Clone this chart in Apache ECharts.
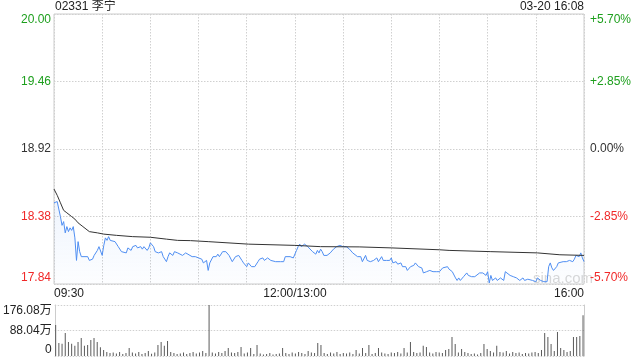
<!DOCTYPE html>
<html><head><meta charset="utf-8">
<script src="https://cdn.jsdelivr.net/npm/echarts@6/dist/echarts.min.js"></script>
<style>html,body{margin:0;padding:0;background:#fff}#c{width:640px;height:360px}</style>
</head><body><div id="c"></div>
<script>
const stockTitle = '02331 李宁';
const stampText = '03-20 16:08';
const prevClose = 18.92;
const tickMinutes = [0, 150, 330];
const tickLabels = ['09:30', '12:00/13:00', '16:00'];
// [minute since 09:30 on trading clock, price]
const pricePoints = [[0,18.49],[1,18.48],[2,18.50],[4,18.38],[5,18.31],[6,18.34],[7,18.25],[8,18.30],[9,18.26],[10,18.29],[11,18.27],[12,18.30],[13,18.21],[14,18.03],[15,18.18],[16,18.10],[17,18.06],[18,18.07],[21,18.06],[22,18.03],[24,18.04],[25,18.07],[27,18.11],[28,18.14],[30,18.07],[31,18.15],[32,18.21],[33,18.19],[34,18.22],[35,18.19],[36,18.20],[38,18.18],[39,18.18],[40,18.14],[42,18.10],[43,18.11],[45,18.09],[46,18.13],[48,18.11],[49,18.14],[51,18.15],[52,18.13],[54,18.14],[55,18.12],[56,18.14],[58,18.11],[59,18.13],[60,18.17],[61,18.17],[62,18.14],[63,18.10],[64,18.11],[65,18.09],[67,18.10],[68,18.06],[70,18.02],[71,18.06],[72,18.09],[74,18.07],[75,18.10],[77,18.09],[80,18.07],[82,18.09],[83,18.10],[86,18.06],[88,18.06],[90,18.05],[92,18.04],[93,18.01],[95,18.03],[96,17.95],[97,18.01],[98,18.02],[99,18.06],[100,18.07],[101,18.06],[102,18.08],[103,18.06],[105,18.10],[106,18.09],[107,18.10],[108,18.09],[109,18.07],[110,18.06],[111,18.02],[113,18.06],[114,18.05],[115,18.07],[117,18.03],[118,18.01],[120,17.98],[121,18.01],[123,17.98],[124,17.99],[125,17.98],[127,18.02],[128,18.04],[130,18.05],[131,18.03],[133,18.05],[135,18.03],[136,18.04],[138,18.02],[139,18.03],[141,18.02],[143,18.02],[144,18.06],[145,18.06],[147,18.06],[148,18.07],[149,18.05],[151,18.11],[152,18.14],[153,18.16],[154,18.14],[156,18.16],[158,18.14],[159,18.13],[161,18.10],[163,18.08],[164,18.11],[165,18.09],[166,18.12],[167,18.10],[168,18.07],[170,18.07],[172,18.09],[173,18.10],[174,18.12],[176,18.14],[177,18.14],[178,18.15],[180,18.14],[181,18.15],[182,18.14],[184,18.12],[186,18.09],[189,18.06],[191,18.06],[192,18.02],[194,18.07],[195,18.03],[197,18.02],[199,18.03],[201,18.05],[202,18.02],[204,18.06],[205,18.03],[207,18.03],[209,18.03],[210,18.05],[211,18.01],[213,18.02],[214,18.00],[216,18.01],[217,17.98],[219,17.98],[220,17.95],[222,17.98],[224,17.99],[225,18.01],[226,18.01],[227,17.98],[229,17.97],[230,17.93],[232,17.94],[233,17.94],[234,17.95],[236,17.94],[237,17.95],[238,17.94],[240,17.94],[242,17.97],[243,17.96],[245,17.98],[246,17.96],[248,17.94],[250,17.89],[251,17.87],[252,17.89],[253,17.87],[255,17.90],[256,17.91],[257,17.93],[258,17.91],[260,17.90],[262,17.90],[263,17.91],[265,17.93],[267,17.93],[269,17.91],[270,17.94],[271,17.85],[272,17.91],[273,17.87],[275,17.89],[276,17.87],[278,17.89],[280,17.87],[281,17.94],[282,17.93],[284,17.91],[286,17.90],[287,17.89],[288,17.89],[290,17.87],[292,17.89],[293,17.87],[295,17.88],[296,17.89],[298,17.87],[300,17.86],[301,17.89],[303,17.87],[305,17.86],[306,17.87],[307,17.86],[308,17.98],[309,18.01],[310,17.97],[311,17.95],[312,17.94],[313,17.98],[314,18.01],[315,18.01],[317,18.02],[318,18.03],[319,18.02],[321,18.03],[323,18.02],[324,18.04],[325,18.07],[326,18.06],[327,18.06],[328,18.09],[329,18.05],[330,18.02]];
const avgPoints = [[0,18.60],[2,18.55],[4,18.49],[6,18.43],[8,18.41],[11,18.38],[13,18.36],[15,18.33],[18,18.30],[22,18.26],[27,18.25],[31,18.24],[39,18.23],[49,18.22],[60,18.215],[70,18.20],[77,18.19],[85,18.188],[96,18.18],[97,18.17],[121,18.16],[150,18.15],[166,18.14],[190,18.138],[210,18.13],[240,18.115],[246,18.11],[272,18.10],[301,18.09],[315,18.075],[330,18.07]];
// volume per 2-minute bin, in 万 shares
const volumes = [107,45,42,79,48,42,35,48,62,35,38,55,62,48,30,21,14,10,12,9,14,7,10,28,12,9,14,7,10,17,8,12,38,48,35,52,14,10,7,9,12,7,10,14,9,12,17,10,176,12,9,14,10,17,28,12,10,14,31,9,12,28,7,38,9,5,7,10,5,7,9,28,10,7,12,9,14,10,7,17,12,10,45,38,10,7,12,9,14,7,10,9,12,7,21,9,28,10,38,7,10,28,12,9,7,12,10,14,9,28,12,48,14,10,12,35,31,12,9,14,12,10,21,24,66,41,12,24,14,10,7,9,5,10,41,24,17,12,35,14,12,17,9,14,10,12,7,10,9,12,14,10,21,79,66,41,17,83,28,21,14,17,66,66,69,141];
const volMax = 176.08;

const GREEN = '#1d9f1d', RED = '#f02828', DARK = '#333';
const FONT = 'Arial, "Liberation Sans", "Noto Sans CJK SC", sans-serif';
const toPct = p => (p / prevClose - 1) * 100;
const priceData = pricePoints.map(d => [d[0], toPct(d[1])]);
const avgData = avgPoints.map(d => [d[0], toPct(d[1])]);
const volData = volumes.map((v, i) => [i * 2, v]);
const colorFor = v => { v = Number(v); return v > 0.001 ? GREEN : (v < -0.001 ? RED : DARK); };

const chart = echarts.init(document.getElementById('c'), null, {renderer: 'canvas'});
chart.setOption({
  animation: false,
  textStyle: {fontFamily: FONT},
  title: [
    {text: stockTitle, left: 55, top: 1, padding: 0, textStyle: {fontSize: 12, fontWeight: 'normal', color: '#222', fontFamily: FONT}},
    {text: stampText, right: 56, top: 1, padding: 0, textStyle: {fontSize: 12, fontWeight: 'normal', color: '#222', fontFamily: FONT}}
  ],
  graphic: [{type: 'text', left: 533, top: 271, style: {text: 'sina.com', fill: '#d8d8d8', font: '15px ' + FONT}}],
  grid: [
    {left: 54, right: 56, top: 14, height: 270, show: true, borderColor: '#ccc', borderWidth: 1},
    {left: 54, right: 56, top: 305, height: 51}
  ],
  xAxis: [
    {type: 'value', gridIndex: 0, min: 0, max: 330, interval: 30,
     axisLine: {show: false}, axisTick: {show: false},
     splitLine: {show: true, lineStyle: {color: '#d0d0d0', type: [1.5, 1.5]}},
     axisLabel: {show: true, margin: 4, fontSize: 12, color: '#222', fontFamily: FONT,
       alignMinLabel: 'left', alignMaxLabel: 'right',
       formatter: v => { const i = tickMinutes.indexOf(Math.round(v)); return i >= 0 ? tickLabels[i] : ''; }}},
    {type: 'value', gridIndex: 1, min: -0.6, max: 330.6, interval: 30,
     axisLine: {show: false}, axisTick: {show: false}, splitLine: {show: false}, axisLabel: {show: false}}
  ],
  yAxis: [
    {type: 'value', gridIndex: 0, min: -5.7, max: 5.7, interval: 2.85, position: 'left',
     axisLine: {show: false}, axisTick: {show: false},
     splitLine: {show: true, lineStyle: {color: '#d0d0d0', type: [1.5, 1.5]}},
     axisLabel: {margin: 3, fontSize: 12, fontFamily: FONT, color: colorFor,
       verticalAlignMinLabel: 'bottom', verticalAlignMaxLabel: 'top',
       formatter: v => (prevClose * (1 + v / 100)).toFixed(2)}},
    {type: 'value', gridIndex: 0, min: -5.7, max: 5.7, interval: 2.85, position: 'right',
     axisLine: {show: false}, axisTick: {show: false}, splitLine: {show: false},
     axisLabel: {margin: 6, fontSize: 12, fontFamily: FONT, color: colorFor,
       verticalAlignMinLabel: 'bottom', verticalAlignMaxLabel: 'top',
       formatter: v => { v = Number(v); if (Math.abs(v) < 0.001) return '0.00%'; return (v > 0 ? '+' : '') + v.toFixed(2) + '%'; }}},
    {type: 'value', gridIndex: 1, min: 0, max: volMax, interval: volMax / 2, position: 'left',
     axisLine: {show: true, lineStyle: {color: '#ccc'}}, axisTick: {show: false},
     splitLine: {show: true, lineStyle: {color: '#d0d0d0', type: [1.5, 1.5]}},
     axisLabel: {margin: 3, fontSize: 12, color: '#222', fontFamily: FONT,
       verticalAlignMinLabel: 'bottom', verticalAlignMaxLabel: 'top',
       formatter: v => { v = Number(v); return v < 0.001 ? '0' : v.toFixed(2) + '万'; }}},
    {type: 'value', gridIndex: 1, min: 0, max: volMax, position: 'right',
     axisLine: {show: true, onZero: false, lineStyle: {color: '#ccc'}}, axisTick: {show: false},
     splitLine: {show: false}, axisLabel: {show: false}}
  ],
  series: [
    {type: 'line', xAxisIndex: 0, yAxisIndex: 0, data: priceData, symbol: 'none',
     lineStyle: {color: '#4f8ef2', width: 1},
     areaStyle: {origin: 'start', color: new echarts.graphic.LinearGradient(0, 0, 0, 1, [
       {offset: 0, color: 'rgba(79,142,242,0.13)'}, {offset: 1, color: 'rgba(79,142,242,0.02)'}])},
     z: 3},
    {type: 'line', xAxisIndex: 0, yAxisIndex: 0, data: avgData, symbol: 'none',
     lineStyle: {color: '#333', width: 1}, z: 4},
    {type: 'bar', xAxisIndex: 1, yAxisIndex: 2, data: volData, barWidth: 1,
     itemStyle: {color: '#5a5a5a'}}
  ]
});
</script></body></html>
